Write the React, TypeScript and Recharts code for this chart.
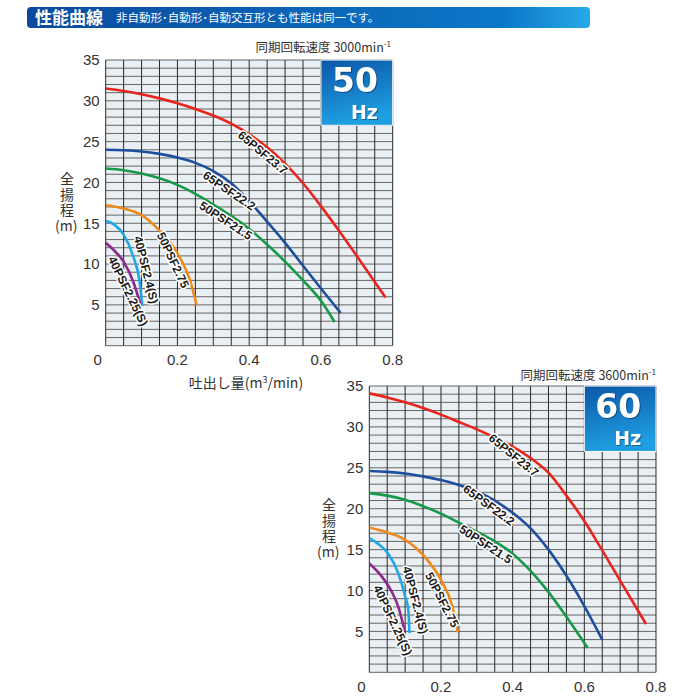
import React from 'react';
import { LineChart, Line, XAxis, YAxis, CartesianGrid, ReferenceArea, ReferenceDot } from 'recharts';

// ---- axis / grid values ----
const qTicks = [0, 0.2, 0.4, 0.6, 0.8];
const hTicks = [5, 10, 15, 20, 25, 30, 35];
const qGrid = [0, 0.05, 0.1, 0.15, 0.2, 0.25, 0.3, 0.35, 0.4, 0.45, 0.5, 0.55, 0.6, 0.65, 0.7, 0.75, 0.8];
const hGrid = [0, 1, 2, 3, 4, 5, 6, 7, 8, 9, 10, 11, 12, 13, 14, 15, 16, 17, 18, 19, 20, 21, 22, 23, 24, 25, 26, 27, 28, 29, 30, 31, 32, 33, 34, 35];

// ---- series names ----
const seriesNames = ['65PSF23.7', '65PSF22.2', '50PSF21.5', '50PSF2.75', '40PSF2.4(S)', '40PSF2.25(S)'];
const seriesColors = ['#e8241c', '#1d4f9e', '#17994a', '#f0891a', '#21a6e6', '#8b2a8c'];

// ---- 50Hz curves [q (m3/min), head (m)] ----
const red50 = [[0, 31.5], [0.05, 31.2], [0.1, 30.8], [0.15, 30.3], [0.2, 29.7], [0.25, 29.0], [0.3, 28.2], [0.35, 27.2], [0.4, 25.9], [0.45, 24.3], [0.5, 22.3], [0.55, 19.9], [0.6, 17.1], [0.65, 14.1], [0.7, 11.0], [0.75, 7.8], [0.78, 5.9]];
const blue50 = [[0, 24.0], [0.05, 23.95], [0.1, 23.8], [0.15, 23.5], [0.2, 23.05], [0.25, 22.4], [0.3, 21.4], [0.35, 19.9], [0.4, 17.7], [0.45, 15.2], [0.5, 12.6], [0.55, 9.8], [0.6, 7.0], [0.655, 4.0]];
const green50 = [[0, 21.7], [0.05, 21.5], [0.1, 21.1], [0.15, 20.5], [0.2, 19.7], [0.25, 18.6], [0.3, 17.3], [0.35, 15.9], [0.4, 14.3], [0.45, 12.4], [0.5, 10.3], [0.55, 8.0], [0.6, 5.5], [0.638, 2.9]];
const orange50 = [[0, 17.2], [0.05, 16.8], [0.1, 16.0], [0.15, 14.1], [0.2, 11.3], [0.235, 8.0], [0.254, 4.9]];
const lightBlue50 = [[0, 15.3], [0.025, 14.8], [0.05, 13.6], [0.077, 10.9], [0.094, 8.0], [0.102, 4.9]];
const purple50 = [[0, 12.6], [0.025, 11.6], [0.05, 10.3], [0.077, 7.8], [0.098, 4.9]];

// ---- 60Hz curves ----
const red60 = [[0, 34.1], [0.05, 33.6], [0.1, 33.0], [0.15, 32.3], [0.2, 31.5], [0.25, 30.6], [0.3, 29.7], [0.35, 28.7], [0.4, 27.6], [0.45, 26.2], [0.5, 24.4], [0.55, 21.6], [0.6, 18.5], [0.65, 14.9], [0.7, 11.2], [0.772, 5.9]];
const blue60 = [[0, 24.6], [0.05, 24.5], [0.1, 24.3], [0.15, 23.95], [0.2, 23.5], [0.25, 22.9], [0.3, 22.1], [0.35, 21.0], [0.4, 19.5], [0.45, 17.6], [0.5, 15.0], [0.55, 11.8], [0.6, 8.1], [0.65, 4.0]];
const green60 = [[0, 21.9], [0.05, 21.6], [0.1, 21.1], [0.15, 20.3], [0.2, 19.4], [0.25, 18.3], [0.3, 17.2], [0.35, 16.0], [0.4, 14.5], [0.45, 12.4], [0.5, 9.8], [0.55, 6.8], [0.609, 3.0]];
const orange60 = [[0, 17.7], [0.05, 17.1], [0.1, 16.2], [0.155, 14.1], [0.2, 11.3], [0.232, 8.0], [0.247, 4.9]];
const lightBlue60 = [[0, 16.4], [0.025, 15.7], [0.053, 14.5], [0.081, 12.1], [0.1, 9.3], [0.109, 7.6], [0.112, 4.8]];
const purple60 = [[0, 13.3], [0.035, 11.7], [0.062, 9.9], [0.081, 8.0], [0.1, 4.8]];

// ---- curve label placement: position along curve (q), text angle, side offset (px) ----
const labelQ50 = [0.45, 0.355, 0.345, 0.205, 0.088, 0.082];
const labelAngle50 = [40, 34, 33, 65, 76, 64];
const labelSide50 = [7, 7, 7, 7, -9, 8];
const labelQ60 = [0.415, 0.345, 0.335, 0.22, 0.104, 0.088];
const labelAngle60 = [39, 36, 33, 63, 75, 65];
const labelSide60 = [7, 7, 7, 7, -9, 9];

type Row = { q: number; h: number };
const toRows = (pts: number[][]): Row[] => pts.map(([q, h]) => ({ q, h }));

const series50 = [red50, blue50, green50, orange50, lightBlue50, purple50].map(toRows);
const series60 = [red60, blue60, green60, orange60, lightBlue60, purple60].map(toRows);

// head on a curve at a given flow (linear between read points) — used only to anchor labels
const headAt = (rows: Row[], q: number) => {
  for (let i = 1; i < rows.length; i++) {
    if (q <= rows[i].q) {
      const a = rows[i - 1];
      const b = rows[i];
      return a.h + ((b.h - a.h) * (q - a.q)) / (b.q - a.q);
    }
  }
  return rows[rows.length - 1].h;
};

const tickFont = "'Liberation Sans', Arial, sans-serif";
const jpFont = "'Noto Sans CJK JP', sans-serif";

const XTick = (props: any) => {
  const { x, y, payload } = props;
  const v = payload.value;
  return (
    <text x={v === 0 ? x - 8 : x} y={y} dy="0.71em" textAnchor="middle" fontSize={15} fontFamily={tickFont} fill="#333">
      {String(v)}
    </text>
  );
};

const YTick = (props: any) => {
  const { x, y, payload } = props;
  return (
    <text x={x} y={y} dy="0.36em" textAnchor="end" fontSize={15} fontFamily={tickFont} fill="#333">
      {payload.value}
    </text>
  );
};

const makeCurveLabel = (text: string, angle: number, side: number) => (p: any) => {
  const { cx, cy } = p;
  const r = (angle * Math.PI) / 180;
  const x = cx - side * Math.sin(r);
  const y = cy + side * Math.cos(r);
  return (
    <text
      x={x}
      y={y}
      transform={`rotate(${angle}, ${x}, ${y})`}
      textAnchor="middle"
      dominantBaseline="central"
      fontSize={12}
      fontWeight="bold"
      fontFamily={tickFont}
      fill="#1a1a1a"
      stroke="#fff"
      strokeWidth={3}
      paintOrder="stroke"
      strokeLinejoin="round"
    >
      {text}
    </text>
  );
};

const hzFont = "'DejaVu Sans', sans-serif";
const makeHzLabel = (big: string) => (props: any) => {
  const vb = props.viewBox || {};
  const x0 = vb.x;
  const y0 = vb.y;
  const shadow = { filter: 'drop-shadow(1px 1px 0.6px rgba(0,20,60,0.45))' };
  return (
    <g fontWeight="bold" fontFamily={hzFont} fill="#fff" style={shadow}>
      <text x={x0 + 34} y={y0 + 31.5} textAnchor="middle" fontSize={33}>{big}</text>
      <text x={x0 + 57} y={y0 + 59} textAnchor="end" fontSize={19}>Hz</text>
    </g>
  );
};

type PanelProps = {
  series: Row[][];
  labelQ: number[];
  labelAngle: number[];
  labelSide: number[];
  hz: string;
  gradId: string;
  width: number;
  height: number;
  margin: { top: number; right: number; bottom: number; left: number };
  xAxisHeight: number;
};

const Panel = ({ series, labelQ, labelAngle, labelSide, hz, gradId, width, height, margin, xAxisHeight }: PanelProps) => (
  <LineChart width={width} height={height} margin={margin}>
    <defs>
      <linearGradient id={gradId} x1="0" y1="0" x2="0.25" y2="1">
        <stop offset="0%" stopColor="#0c57a8" />
        <stop offset="100%" stopColor="#1f9fe2" />
      </linearGradient>
    </defs>
    <CartesianGrid horizontal={true} vertical={false} horizontalValues={hGrid} stroke="#666" strokeWidth={1} fill="#e9eff3" fillOpacity={1} />
    <CartesianGrid horizontal={false} vertical={true} verticalValues={qGrid} stroke="#2a2a2a" strokeWidth={1} />
    <XAxis
      type="number"
      dataKey="q"
      domain={[0, 0.8]}
      ticks={qTicks}
      allowDataOverflow
      axisLine={false}
      tickLine={false}
      tickSize={0}
      tickMargin={9}
      height={xAxisHeight}
      tick={<XTick />}
      interval={0}
    />
    <YAxis
      type="number"
      dataKey="h"
      domain={[0, 35]}
      ticks={hTicks}
      allowDataOverflow
      axisLine={false}
      tickLine={false}
      tickSize={0}
      tickMargin={6}
      width={40}
      tick={<YTick />}
      interval={0}
    />
    <ReferenceArea x1={0.6} x2={0.8} y1={27} y2={35} fill={`url(#${gradId})`} fillOpacity={1} stroke="#ffffff" strokeWidth={1} label={makeHzLabel(hz)} />
    {series.map((rows, i) => (
      <Line
        key={seriesNames[i]}
        data={rows}
        dataKey="h"
        type="monotone"
        stroke={seriesColors[i]}
        strokeWidth={2.6}
        dot={false}
        activeDot={false}
        isAnimationActive={false}
      />
    ))}
    {seriesNames.map((name, i) => (
      <ReferenceDot
        key={'lbl' + name}
        x={labelQ[i]}
        y={headAt(series[i], labelQ[i])}
        r={0}
        ifOverflow="visible"
        shape={makeCurveLabel(name, labelAngle[i], labelSide[i])}
      />
    ))}
  </LineChart>
);

const vText = (left: number, top: number) => (
  <>
    <div style={{ position: 'absolute', left, top, writingMode: 'vertical-rl', fontSize: 14, lineHeight: '14px', letterSpacing: '1.5px', fontFamily: jpFont, color: '#333' }}>全揚程</div>
    <div style={{ position: 'absolute', left: left - 5, top: top + 46, fontSize: 14, lineHeight: '14px', fontFamily: jpFont, color: '#333' }}>(m)</div>
  </>
);

export default function App() {
  return (
    <div style={{ position: 'absolute', left: 0, top: 0, width: 700, height: 700, background: '#fff', overflow: 'hidden' }}>
      <svg width={700} height={700} style={{ position: 'absolute', left: 0, top: 0 }}>
        <defs>
          <linearGradient id="titleGrad" x1="0" y1="0" x2="1" y2="0">
            <stop offset="0%" stopColor="#0a4a9e" />
            <stop offset="85%" stopColor="#0c78c8" />
            <stop offset="100%" stopColor="#27a9e8" />
          </linearGradient>
        </defs>
        <rect x={27} y={7} width={563} height={21} rx={4} fill="url(#titleGrad)" />
        <text x={35} y={23.5} fontSize={17} fontWeight="bold" fontFamily={jpFont} fill="#fff">性能曲線</text>
        <text x={116} y={22} fontSize={11.5} fontFamily={jpFont} fill="#fff">非自動形･自動形･自動交互形とも性能は同一です。</text>

        <text x={391} y={52} textAnchor="end" fontSize={12.5} fontFamily={jpFont} fill="#333">
          同期回転速度 3000min<tspan dy={-5} fontSize={8}>-1</tspan>
        </text>
        <text x={656} y={380} textAnchor="end" fontSize={12.5} fontFamily={jpFont} fill="#333">
          同期回転速度 3600min<tspan dy={-5} fontSize={8}>-1</tspan>
        </text>

        <text x={246} y={388} textAnchor="middle" fontSize={14} fontFamily={jpFont} fill="#333">
          吐出し量(m<tspan dy={-5} fontSize={9}>3</tspan><tspan dy={5}>/min)</tspan>
        </text>
      </svg>

      {vText(60, 172)}
      {vText(322, 498)}

      <div style={{ position: 'absolute', left: 0, top: 0 }}>
        <Panel
          series={series50}
          labelQ={labelQ50}
          labelAngle={labelAngle50}
          labelSide={labelSide50}
          hz="50"
          gradId="hz50"
          width={420}
          height={400}
          margin={{ top: 60, right: 27.3, bottom: 24.3, left: 65.7 }}
          xAxisHeight={30}
        />
      </div>
      <div style={{ position: 'absolute', left: 300, top: 336 }}>
        <Panel
          series={series60}
          labelQ={labelQ60}
          labelAngle={labelAngle60}
          labelSide={labelSide60}
          hz="60"
          gradId="hz60"
          width={380}
          height={364}
          margin={{ top: 50, right: 24, bottom: 7.7, left: 29.3 }}
          xAxisHeight={20}
        />
      </div>
    </div>
  );
}
